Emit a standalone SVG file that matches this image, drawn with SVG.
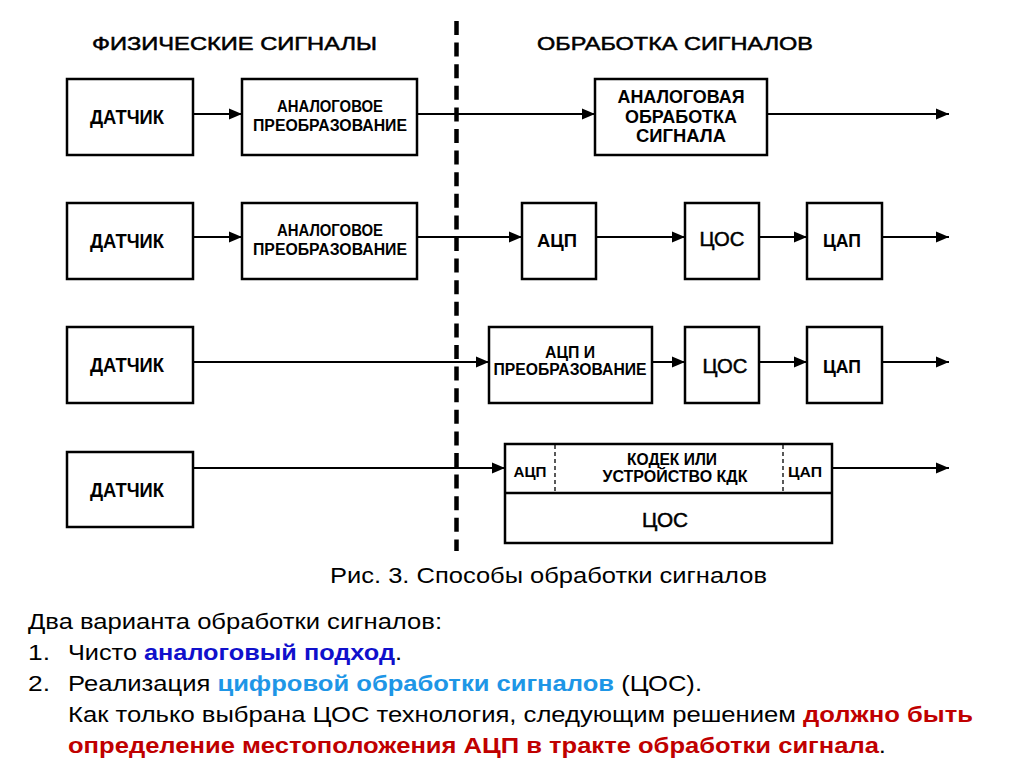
<svg xmlns="http://www.w3.org/2000/svg" width="1024" height="767" viewBox="0 0 1024 767">
<style>
.box{fill:#fff;stroke:#000;stroke-width:2.5}
.lbl{font-family:"Liberation Sans",Arial,sans-serif;font-weight:bold;fill:#000;text-anchor:middle}
.reg{font-family:"Liberation Sans",Arial,sans-serif;font-weight:normal;fill:#000;stroke:#000;stroke-width:0.5;text-anchor:middle}
.hdr{font-family:"Liberation Sans",Arial,sans-serif;font-size:19px;fill:#000;stroke:#000;stroke-width:0.5}
.body{font-family:"Liberation Sans",Arial,sans-serif;font-size:22px;fill:#000}
.con{stroke:#000;stroke-width:2.2;fill:none;marker-end:url(#ah)}
.b1{fill:#1010CC;font-weight:bold}
.b2{fill:#1E96E6;font-weight:bold}
.rd{fill:#C00000;font-weight:bold}
</style>
<defs>
<marker id="ah" markerUnits="userSpaceOnUse" markerWidth="13" markerHeight="12" refX="13" refY="6" orient="auto">
<path d="M0,0.5 L13,6 L0,11.5 z" fill="#000"/>
</marker>
</defs>
<rect width="1024" height="767" fill="#fff"/>

<g id="headers">
<text class="hdr" x="92" y="50" textLength="285" lengthAdjust="spacingAndGlyphs">ФИЗИЧЕСКИЕ СИГНАЛЫ</text>
<text class="hdr" x="537" y="50" textLength="276" lengthAdjust="spacingAndGlyphs">ОБРАБОТКА СИГНАЛОВ</text>
</g>

<g id="divider">
<line x1="456.5" y1="21" x2="456.5" y2="551" stroke="#000" stroke-width="4.5" stroke-dasharray="14 7.6"/>
</g>

<g id="connectors">
<line class="con" x1="193" y1="114" x2="242" y2="114"/>
<line class="con" x1="417" y1="114" x2="595" y2="114"/>
<line class="con" x1="767" y1="114" x2="949" y2="114"/>

<line class="con" x1="193" y1="237" x2="242" y2="237"/>
<line class="con" x1="417" y1="237" x2="522" y2="237"/>
<line class="con" x1="596" y1="237" x2="685" y2="237"/>
<line class="con" x1="759" y1="237" x2="807" y2="237"/>
<line class="con" x1="882" y1="237" x2="949" y2="237"/>

<line class="con" x1="193" y1="362" x2="489" y2="362"/>
<line class="con" x1="652" y1="362" x2="685" y2="362"/>
<line class="con" x1="759" y1="362" x2="807" y2="362"/>
<line class="con" x1="882" y1="362" x2="949" y2="362"/>

<line class="con" x1="193" y1="468" x2="505" y2="468"/>
<line class="con" x1="832" y1="468" x2="949" y2="468"/>
</g>

<g id="r1-sensor">
<rect class="box" x="67" y="79" width="126" height="76"/>
<text class="lbl" x="127" y="124" font-size="20" textLength="74" lengthAdjust="spacingAndGlyphs">ДАТЧИК</text>
</g>
<g id="r1-analog-conv">
<rect class="box" x="242" y="79" width="175" height="76"/>
<text class="lbl" x="330" y="112" font-size="16" textLength="106" lengthAdjust="spacingAndGlyphs">АНАЛОГОВОЕ</text>
<text class="lbl" x="330" y="131" font-size="16" textLength="154" lengthAdjust="spacingAndGlyphs">ПРЕОБРАЗОВАНИЕ</text>
</g>
<g id="r1-analog-proc">
<rect class="box" x="595" y="79" width="172" height="76"/>
<text class="lbl" x="681" y="103" font-size="18" textLength="127" lengthAdjust="spacingAndGlyphs">АНАЛОГОВАЯ</text>
<text class="lbl" x="681" y="123" font-size="18" textLength="112" lengthAdjust="spacingAndGlyphs">ОБРАБОТКА</text>
<text class="lbl" x="681" y="142" font-size="18" textLength="90" lengthAdjust="spacingAndGlyphs">СИГНАЛА</text>
</g>

<g id="r2-sensor">
<rect class="box" x="67" y="203" width="126" height="76"/>
<text class="lbl" x="127" y="248" font-size="20" textLength="74" lengthAdjust="spacingAndGlyphs">ДАТЧИК</text>
</g>
<g id="r2-analog-conv">
<rect class="box" x="242" y="203" width="175" height="76"/>
<text class="lbl" x="330" y="236" font-size="16" textLength="106" lengthAdjust="spacingAndGlyphs">АНАЛОГОВОЕ</text>
<text class="lbl" x="330" y="255" font-size="16" textLength="154" lengthAdjust="spacingAndGlyphs">ПРЕОБРАЗОВАНИЕ</text>
</g>
<g id="r2-adc">
<rect class="box" x="522" y="203" width="74" height="76"/>
<text class="lbl" x="557" y="247" font-size="19" textLength="40" lengthAdjust="spacingAndGlyphs">АЦП</text>
</g>
<g id="r2-dsp">
<rect class="box" x="685" y="203" width="74" height="76"/>
<text class="reg" x="722" y="246" font-size="21" textLength="45" lengthAdjust="spacingAndGlyphs">ЦОС</text>
</g>
<g id="r2-dac">
<rect class="box" x="807" y="203" width="75" height="76"/>
<text class="lbl" x="842" y="247" font-size="18" textLength="38" lengthAdjust="spacingAndGlyphs">ЦАП</text>
</g>

<g id="r3-sensor">
<rect class="box" x="67" y="327" width="126" height="76"/>
<text class="lbl" x="127" y="372" font-size="20" textLength="74" lengthAdjust="spacingAndGlyphs">ДАТЧИК</text>
</g>
<g id="r3-adc-conv">
<rect class="box" x="489" y="327" width="163" height="76"/>
<text class="lbl" x="570" y="358" font-size="16" textLength="50" lengthAdjust="spacingAndGlyphs">АЦП И</text>
<text class="lbl" x="570" y="375" font-size="16" textLength="153" lengthAdjust="spacingAndGlyphs">ПРЕОБРАЗОВАНИЕ</text>
</g>
<g id="r3-dsp">
<rect class="box" x="685" y="327" width="74" height="76"/>
<text class="reg" x="725" y="373" font-size="21" textLength="45" lengthAdjust="spacingAndGlyphs">ЦОС</text>
</g>
<g id="r3-dac">
<rect class="box" x="807" y="327" width="75" height="76"/>
<text class="lbl" x="842" y="373" font-size="18" textLength="38" lengthAdjust="spacingAndGlyphs">ЦАП</text>
</g>

<g id="r4-sensor">
<rect class="box" x="67" y="452" width="126" height="75"/>
<text class="lbl" x="127" y="497" font-size="20" textLength="74" lengthAdjust="spacingAndGlyphs">ДАТЧИК</text>
</g>
<g id="r4-codec">
<rect class="box" x="505" y="444" width="327" height="99"/>
<line x1="505" y1="493" x2="832" y2="493" stroke="#000" stroke-width="2.5"/>
<line x1="555" y1="445" x2="555" y2="492" stroke="#000" stroke-width="1.3" stroke-dasharray="4 3"/>
<line x1="783" y1="445" x2="783" y2="492" stroke="#000" stroke-width="1.3" stroke-dasharray="4 3"/>
<text class="lbl" x="530" y="477" font-size="15" textLength="33" lengthAdjust="spacingAndGlyphs">АЦП</text>
<text class="lbl" x="672" y="465" font-size="16" textLength="90" lengthAdjust="spacingAndGlyphs">КОДЕК ИЛИ</text>
<text class="lbl" x="675" y="482" font-size="16" textLength="145" lengthAdjust="spacingAndGlyphs">УСТРОЙСТВО КДК</text>
<text class="lbl" x="805" y="477" font-size="15" textLength="34" lengthAdjust="spacingAndGlyphs">ЦАП</text>
<text class="reg" x="665" y="527" font-size="21" textLength="46" lengthAdjust="spacingAndGlyphs">ЦОС</text>
</g>

<g id="caption">
<text class="body" x="330" y="583" textLength="437" lengthAdjust="spacingAndGlyphs">Рис. 3. Способы обработки сигналов</text>
</g>

<g id="notes">
<text class="body" x="28" y="629" textLength="414" lengthAdjust="spacingAndGlyphs">Два варианта обработки сигналов:</text>
<text class="body" x="28" y="660" textLength="22" lengthAdjust="spacingAndGlyphs">1.</text>
<text class="body" x="68" y="660" textLength="334" lengthAdjust="spacingAndGlyphs">Чисто <tspan class="b1">аналоговый подход</tspan>.</text>
<text class="body" x="28" y="691" textLength="22" lengthAdjust="spacingAndGlyphs">2.</text>
<text class="body" x="68" y="691" textLength="634" lengthAdjust="spacingAndGlyphs">Реализация <tspan class="b2">цифровой обработки сигналов</tspan> (ЦОС).</text>
<text class="body" x="68" y="722" textLength="905" lengthAdjust="spacingAndGlyphs">Как только выбрана ЦОС технология, следующим решением <tspan class="rd">должно быть</tspan></text>
<text class="body" x="68" y="753" textLength="818" lengthAdjust="spacingAndGlyphs"><tspan class="rd">определение местоположения АЦП в тракте обработки сигнала</tspan>.</text>
</g>
</svg>
